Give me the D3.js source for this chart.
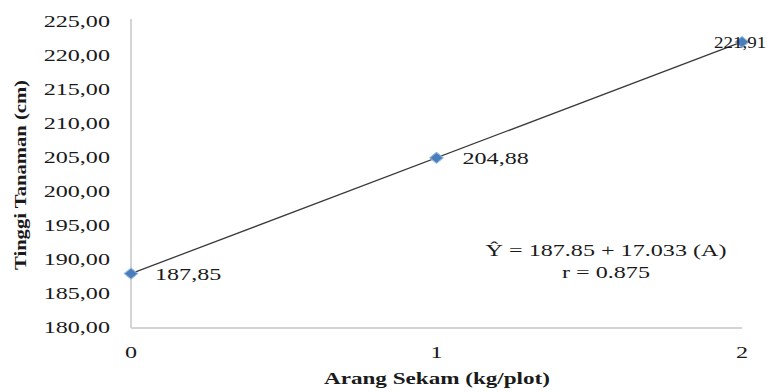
<!DOCTYPE html>
<html>
<head>
<meta charset="utf-8">
<script src="https://cdn.jsdelivr.net/npm/d3@7"></script>
<style>
  html, body { margin: 0; padding: 0; background: #fff; }
  svg { display: block; }
  text { font-family: "Liberation Serif", "Times New Roman", serif; fill: #1a1a1a; }
</style>
</head>
<body>
<svg id="chart" width="774" height="392"></svg>
<script>
// Data: dose of rice-husk charcoal vs. plant height
const doses = [0, 1, 2];
const heights = [187.85, 204.88, 221.91];
const heightLabels = ["187,85", "204,88", "221,91"];
const yTicks = [180, 185, 190, 195, 200, 205, 210, 215, 220, 225];
const xTicks = [0, 1, 2];
const intercept = 187.85;
const slope = 17.033;
const equationLines = ["Ŷ = 187.85 + 17.033 (A)", "r = 0.875"];

const plot = { left: 131, right: 742, top: 21, bottom: 327 };
const stretch = 1.42;   // horizontal text widening
const fontSize = 17;

const svg = d3.select("#chart");

const x = d3.scaleLinear().domain([0, 2]).range([plot.left, plot.right]);
const y = d3.scaleLinear().domain([180, 225]).range([plot.bottom, plot.top]);

// Helper: horizontally widened text
function wideText(g, px, py, str, anchor, opts = {}) {
  const sx = opts.sx || stretch;
  return g.append("text")
    .attr("transform", `translate(${px},${py}) scale(${sx},1)`)
    .attr("text-anchor", anchor)
    .attr("font-size", opts.size || fontSize)
    .attr("font-weight", opts.weight || "normal")
    .text(str);
}

// Axis lines
svg.append("line")
  .attr("x1", x(0)).attr("x2", x(0))
  .attr("y1", y(225) - 2).attr("y2", y(180) + 1)
  .attr("stroke", "#d4d4d4").attr("stroke-width", 2);
svg.append("line")
  .attr("x1", x(0)).attr("x2", x(2))
  .attr("y1", y(180) + 1).attr("y2", y(180) + 1)
  .attr("stroke", "#d4d4d4").attr("stroke-width", 2);

// Y tick labels
const yAxisG = svg.append("g");
yTicks.forEach(t => {
  wideText(yAxisG, 110, y(t) + 6, d3.format(".2f")(t).replace(".", ","), "end");
});

// X tick labels
const xAxisG = svg.append("g");
xTicks.forEach(t => {
  wideText(xAxisG, x(t), 358, String(t), "middle");
});

// Regression line from the fitted equation
svg.append("line")
  .attr("x1", x(0)).attr("y1", y(intercept + slope * 0))
  .attr("x2", x(2)).attr("y2", y(intercept + slope * 2))
  .attr("stroke", "#3a3a3a").attr("stroke-width", 1.3);

// Diamond markers
const diamond = d3.symbol().type(d3.symbolDiamond2).size(95);
svg.append("g").selectAll("path")
  .data(doses)
  .join("path")
  .attr("d", diamond)
  .attr("transform", (d, i) => `translate(${x(d)},${y(heights[i])}) scale(1.1,0.9)`)
  .attr("fill", "#4a7ebb")
  .attr("stroke", "#8db3dd")
  .attr("stroke-width", 1);

// Data labels
const labelOffsets = [{ dx: 24, sx: stretch }, { dx: 26, sx: stretch }, { dx: -28, sx: 1.12 }];
const labelG = svg.append("g");
doses.forEach((d, i) => {
  const o = labelOffsets[i];
  wideText(labelG, x(d) + o.dx, y(heights[i]) + 6, heightLabels[i], "start", { sx: o.sx });
});

// Equation annotation
const eqG = svg.append("g");
wideText(eqG, 606, 256, equationLines[0], "middle");
wideText(eqG, 606, 278, equationLines[1], "middle");

// Axis titles
wideText(svg, 437, 384, "Arang Sekam (kg/plot)", "middle", { weight: "bold", sx: 1.36 });
svg.append("text")
  .attr("transform", `translate(26,175) rotate(-90)`)
  .attr("text-anchor", "middle")
  .attr("font-size", 17)
  .attr("font-weight", "bold")
  .attr("textLength", 190)
  .attr("lengthAdjust", "spacingAndGlyphs")
  .text("Tinggi Tanaman (cm)");
</script>
</body>
</html>
